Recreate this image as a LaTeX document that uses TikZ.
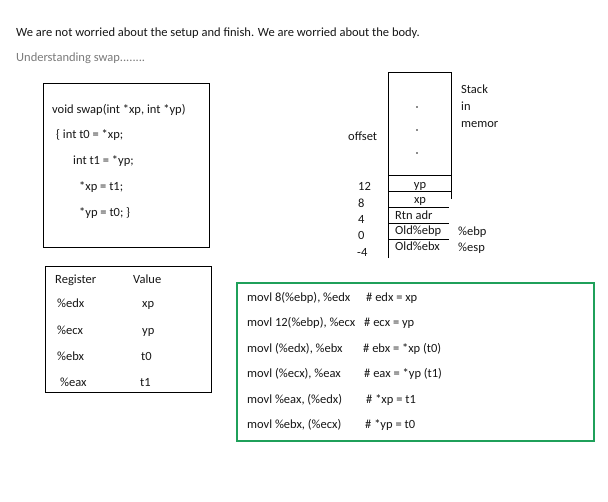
\documentclass[tikz,border=0pt]{standalone}
\usepackage{fontspec}
\setmainfont{Carlito}
\usetikzlibrary{positioning}
\definecolor{Ink}{HTML}{161616}
\definecolor{Grey}{HTML}{7A7A7A}
\definecolor{Green}{HTML}{1FA05A}
\tikzset{
  txt/.style={anchor=base west,inner sep=0pt,text=Ink,font=\fontsize{12.5}{14}\selectfont},
  mid/.style={anchor=base,inner sep=0pt,text=Ink,font=\fontsize{12.5}{14}\selectfont},
  frame/.style={draw=black,line width=1pt,inner sep=0pt},
  gframe/.style={draw=Green,line width=2pt,inner sep=0pt},
  slot/.style={draw=black,line width=.9pt},
}
\begin{document}
\begin{tikzpicture}[x=1pt,y=-1pt]
          \useasboundingbox (0,0) rectangle (608,501);
          \node[txt] (intro) at (16,36) {We are not worried about the setup and finish. We are worried about the body.};
          \node[txt,text=Grey] (title) at (16,61) {Understanding swap........};

          % C source
          \node[frame,minimum width=166pt,minimum height=164pt] (code) at (126,165) {};
          \node[txt] (sig) at (52,113) {void swap(int *xp, int *yp)};
          \node[txt] (ln1) at (56,138) {\{ int t0 = *xp;};
          \node[txt] (ln2) at (73,164) {int t1 = *yp;};
          \node[txt] (ln3) at (79,190) {*xp = t1;};
          \node[txt] (ln4) at (79,216) {*yp = t0; \}};

          % register table
          \node[frame,minimum width=166pt,minimum height=126pt] (regs) at (128,329) {};
          \node[txt] (hreg) at (55,283) {Register};
          \node[txt] (hval) at (133,283) {Value};
          \node[txt] (redx) at (57,307) {\%edx};
          \node[txt] (recx) at (57,334) {\%ecx};
          \node[txt] (rebx) at (57,360) {\%ebx};
          \node[txt] (reax) at (60,386) {\%eax};
          \node[txt] (vedx) at (142,307) {xp};
          \node[txt] (vecx) at (142,334) {yp};
          \node[txt] (vebx) at (141,360) {t0};
          \node[txt] (veax) at (140,386) {t1};

          % stack frame
          \draw[slot] (388,258) -- (388,72) -- (451,72) -- (451,199);
          \foreach \y in {175,191} \draw[slot] (388,\y) -- (451,\y);
          \foreach \y in {207,223,239} \draw[slot] (388,\y) -- (449,\y);
          \foreach \y in {107,130,153} \fill[Ink] (417,\y) circle (.9pt);
          \node[txt] (offset) at (348,140) {offset};
          \node[txt] (stk1) at (461,93) {Stack};
          \node[txt] (stk2) at (461,110) {in};
          \node[txt] (stk3) at (461,127) {memor};
          \node[txt] (o12) at (358,190) {12};
          \node[txt] (o8) at (358,207) {8};
          \node[txt] (o4) at (358,223) {4};
          \node[txt] (o0) at (358,239) {0};
          \node[txt] (om4) at (357,256) {-4};
          \node[mid] (cyp) at (420,188) {yp};
          \node[mid] (cxp) at (420,203) {xp};
          \node[txt] (crtn) at (395,219) {Rtn adr};
          \node[txt] (cebp) at (395,234) {Old\%ebp};
          \node[txt] (cebx) at (395,250) {Old\%ebx};
          \node[txt] (pebp) at (458,235) {\%ebp};
          \node[txt] (pesp) at (458,251) {\%esp};

          % assembly
          \node[gframe,minimum width=357pt,minimum height=158pt] (asm) at (415.5,362) {};
          \node[txt] (a1) at (247,301) {movl 8(\%ebp), \%edx};
          \node[txt] (a2) at (247,326) {movl 12(\%ebp), \%ecx};
          \node[txt] (a3) at (247,352) {movl (\%edx), \%ebx};
          \node[txt] (a4) at (247,377) {movl (\%ecx), \%eax};
          \node[txt] (a5) at (247,403) {movl \%eax, (\%edx)};
          \node[txt] (a6) at (247,428) {movl \%ebx, (\%ecx)};
          \node[txt] (c1) at (366,301) {\# edx = xp};
          \node[txt] (c2) at (364,326) {\# ecx = yp};
          \node[txt] (c3) at (363,352) {\# ebx = *xp (t0)};
          \node[txt] (c4) at (364,377) {\# eax = *yp (t1)};
          \node[txt] (c5) at (366,403) {\# *xp = t1};
          \node[txt] (c6) at (365,428) {\# *yp = t0};
        \end{tikzpicture}
\end{document}
